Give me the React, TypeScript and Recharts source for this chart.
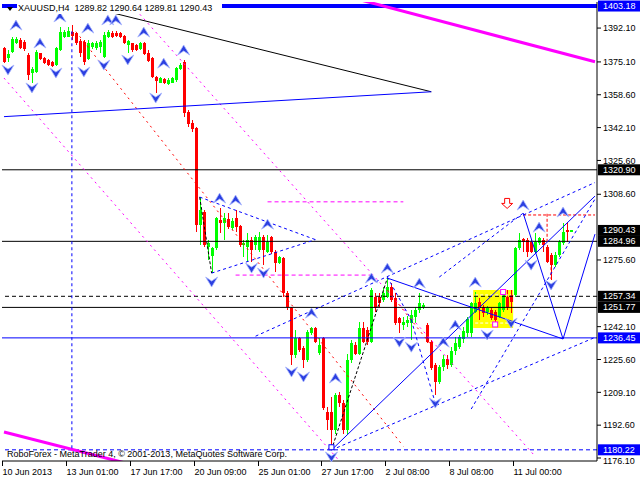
import React from 'react';
import {
  ComposedChart,
  Bar,
  XAxis,
  YAxis,
  ReferenceLine,
  ReferenceDot,
  ReferenceArea
} from 'recharts';

const FONT = '"Liberation Sans", Arial, sans-serif';

// ---- data ----
const timeLabels = [
  '10 Jun 2013', '13 Jun 01:00', '17 Jun 17:00', '20 Jun 09:00', '25 Jun 01:00',
  '27 Jun 17:00', '2 Jul 08:00', '8 Jul 08:00', '11 Jul 00:00'
];
const timeTickBars = [0, 16, 32, 48, 64, 80, 96, 112, 128];
// 1259.10 and 1292.10 sit under the price tags, so they are left out
const priceTicks = [
  1176.1, 1192.6, 1209.1, 1225.6, 1242.1, 1275.6, 1308.6,
  1325.6, 1342.1, 1358.6, 1375.1, 1392.1
];
const totalSlots = 149; // 143 bars + chart shift on the right

const opens = [
  1381.9, 1377.0, 1380.2, 1384.8, 1386.1, 1385.3, 1378.6, 1369.4, 1370.2, 1379.4,
  1377.2, 1376.0, 1375.2, 1373.5, 1381.1, 1387.4, 1387.8, 1390.3, 1389.4, 1385.8,
  1385.3, 1376.4, 1382.4, 1381.9, 1382.7, 1377.7, 1387.4, 1389.8, 1389.8, 1389.4,
  1388.1, 1383.6, 1384.4, 1383.6, 1381.4, 1384.4, 1379.7, 1376.9, 1367.3, 1364.7,
  1366.5, 1364.0, 1364.7, 1366.0, 1371.4, 1375.2, 1350.1, 1344.6, 1341.7, 1293.1,
  1299.8, 1282.2, 1277.5, 1281.4, 1295.6, 1294.0, 1296.1, 1291.9, 1296.5, 1292.6,
  1283.1, 1282.2, 1285.6, 1283.1, 1280.6, 1286.9, 1279.7, 1286.9, 1279.7, 1274.2,
  1276.4, 1258.8, 1251.5, 1227.8, 1236.2, 1231.2, 1225.3, 1238.7, 1241.2, 1229.0,
  1236.2, 1199.3, 1199.3, 1190.1, 1207.7, 1203.5, 1190.1, 1225.3, 1232.8, 1228.6,
  1241.2, 1240.4, 1234.5, 1257.1, 1257.1, 1255.5, 1257.1, 1262.2, 1256.3, 1246.2,
  1242.9, 1243.7, 1243.7, 1247.1, 1250.4, 1252.1, 1242.9, 1234.5, 1222.8, 1214.4,
  1222.0, 1226.0, 1223.0, 1230.0, 1232.0, 1236.0, 1239.0, 1238.7, 1249.6, 1254.6,
  1252.1, 1249.6, 1250.4, 1249.6, 1247.1, 1250.4, 1257.1, 1258.0, 1258.0, 1281.4,
  1285.9, 1285.6, 1284.8, 1279.7, 1283.9, 1285.6, 1282.3, 1278.1, 1273.0, 1278.1,
  1283.9, 1290.6, 1289.82
];
const highs = [
  1382.7, 1381.0, 1387.4, 1387.5, 1386.9, 1386.0, 1379.4, 1372.7, 1381.1, 1379.7,
  1377.8, 1376.5, 1375.8, 1382.7, 1392.8, 1391.1, 1392.8, 1393.6, 1390.3, 1386.4,
  1386.1, 1386.1, 1385.3, 1385.5, 1386.1, 1390.3, 1391.1, 1390.8, 1390.5, 1390.3,
  1388.6, 1386.1, 1384.8, 1384.2, 1385.0, 1385.3, 1381.1, 1377.4, 1368.0, 1367.7,
  1367.0, 1366.8, 1367.7, 1372.7, 1374.4, 1376.0, 1350.9, 1345.9, 1342.3, 1307.3,
  1300.6, 1285.6, 1282.2, 1297.3, 1301.5, 1299.0, 1299.0, 1296.5, 1300.6, 1293.1,
  1285.6, 1288.9, 1287.2, 1288.1, 1289.8, 1288.1, 1288.1, 1287.6, 1280.6, 1277.5,
  1277.2, 1260.0, 1252.1, 1240.4, 1237.0, 1232.3, 1240.4, 1242.0, 1242.0, 1236.2,
  1237.0, 1201.9, 1206.9, 1208.6, 1209.4, 1205.2, 1228.6, 1235.4, 1234.5, 1244.5,
  1244.5, 1242.0, 1261.3, 1258.8, 1258.8, 1262.2, 1266.3, 1263.8, 1258.8, 1247.0,
  1247.0, 1247.5, 1250.4, 1252.1, 1258.8, 1254.0, 1243.7, 1235.4, 1223.6, 1222.8,
  1228.0, 1228.0, 1232.0, 1237.0, 1238.0, 1242.0, 1247.0, 1254.6, 1259.6, 1256.3,
  1253.0, 1252.5, 1251.3, 1250.4, 1254.6, 1259.6, 1260.5, 1260.5, 1282.3, 1289.0,
  1286.4, 1286.4, 1285.6, 1289.0, 1287.2, 1286.4, 1283.1, 1278.9, 1279.7, 1285.6,
  1294.0, 1294.5, 1290.64
];
const lows = [
  1374.4, 1375.0, 1379.4, 1384.0, 1381.4, 1380.5, 1366.0, 1364.7, 1369.7, 1376.0,
  1374.0, 1372.8, 1372.3, 1373.0, 1380.7, 1386.9, 1387.4, 1386.1, 1383.6, 1377.7,
  1373.5, 1376.0, 1381.4, 1381.0, 1379.4, 1376.9, 1386.9, 1386.9, 1387.5, 1386.9,
  1384.1, 1379.4, 1380.2, 1380.5, 1381.0, 1378.6, 1375.2, 1366.8, 1359.3, 1364.3,
  1363.8, 1363.5, 1364.3, 1365.2, 1371.0, 1347.6, 1342.6, 1340.0, 1289.6, 1283.1,
  1282.2, 1275.5, 1268.8, 1280.6, 1288.9, 1285.6, 1291.4, 1290.6, 1289.8, 1282.2,
  1277.2, 1274.7, 1274.7, 1280.6, 1279.7, 1273.0, 1278.9, 1278.4, 1269.7, 1273.5,
  1257.1, 1250.4, 1222.8, 1226.1, 1229.5, 1221.1, 1224.5, 1237.9, 1233.7, 1227.8,
  1200.2, 1190.1, 1180.2, 1188.4, 1201.9, 1188.4, 1188.4, 1223.6, 1227.8, 1227.8,
  1233.7, 1233.0, 1233.7, 1249.6, 1252.0, 1254.6, 1256.3, 1254.6, 1242.9, 1238.7,
  1240.4, 1242.0, 1235.4, 1243.7, 1248.8, 1251.0, 1233.7, 1220.3, 1207.7, 1213.5,
  1220.0, 1221.0, 1222.0, 1228.0, 1231.0, 1234.0, 1237.0, 1237.0, 1248.8, 1245.4,
  1247.0, 1248.0, 1245.4, 1242.0, 1246.2, 1249.6, 1250.4, 1248.8, 1257.1, 1280.6,
  1279.7, 1277.2, 1278.9, 1278.9, 1283.1, 1279.7, 1273.9, 1265.5, 1272.2, 1277.2,
  1283.1, 1284.5, 1289.81
];
const closes = [
  1375.2, 1379.0, 1386.4, 1386.4, 1381.9, 1381.4, 1368.5, 1371.4, 1380.2, 1376.4,
  1374.7, 1373.5, 1373.0, 1381.9, 1390.3, 1390.3, 1390.6, 1388.1, 1384.8, 1379.4,
  1375.2, 1384.8, 1384.8, 1384.8, 1385.3, 1388.6, 1390.3, 1387.8, 1388.1, 1387.4,
  1384.4, 1385.8, 1381.1, 1381.1, 1384.4, 1379.1, 1375.7, 1367.3, 1365.7, 1366.8,
  1364.3, 1366.0, 1366.8, 1371.9, 1373.5, 1349.2, 1343.9, 1341.4, 1293.1, 1300.6,
  1283.1, 1283.9, 1281.4, 1296.5, 1294.0, 1296.5, 1292.3, 1295.3, 1292.3, 1283.1,
  1283.9, 1285.6, 1280.6, 1286.9, 1286.9, 1280.6, 1284.7, 1279.7, 1274.2, 1276.9,
  1258.8, 1252.1, 1227.8, 1236.2, 1230.3, 1225.3, 1239.6, 1241.2, 1234.5, 1232.8,
  1201.0, 1195.2, 1190.1, 1207.7, 1203.5, 1190.1, 1225.3, 1233.7, 1228.6, 1241.2,
  1234.5, 1234.5, 1260.5, 1251.3, 1253.8, 1258.8, 1262.2, 1255.5, 1243.7, 1243.7,
  1244.6, 1245.4, 1247.9, 1250.4, 1253.8, 1253.0, 1234.5, 1221.1, 1214.4, 1221.9,
  1226.0, 1223.0, 1230.0, 1234.0, 1237.0, 1240.0, 1246.0, 1253.8, 1253.8, 1251.3,
  1248.8, 1251.3, 1246.2, 1245.4, 1253.8, 1258.0, 1252.1, 1254.6, 1281.4, 1285.6,
  1284.8, 1279.7, 1279.7, 1284.8, 1286.4, 1283.1, 1274.7, 1273.0, 1278.1, 1284.8,
  1289.8, 1289.8, 1290.43
];

// horizontal levels with their price tags
const levels = [1403.18, 1320.9, 1284.96, 1257.34, 1251.77, 1236.45, 1180.22];
const bidPrice = 1290.43;

// trend lines as [bar1, price1, bar2, price2]
const blackSolidSegs = [[17, 1404.8, 107, 1360.1]];
const blueSolidSegs = [
  [0, 1347.6, 107, 1360.1],
  [82, 1180.1, 148, 1307.7],
  [96, 1266.5, 140, 1235.9],
  [130, 1299.2, 140, 1235.9],
  [140, 1235.9, 148, 1288.6]
];
const blueDashedSegs = [
  [17, 1390.5, 17, 1180.22],
  [49, 1307.2, 78, 1285.8],
  [52, 1269.0, 78, 1285.8],
  [63, 1237.3, 148, 1314.5],
  [82, 1180.1, 148, 1236.7],
  [96, 1267.0, 102, 1245.4],
  [102, 1245.4, 108, 1203.7],
  [117, 1200.7, 148, 1306.2],
  [109, 1267.0, 130, 1299.1]
];
const blackDashedSegs = [
  [49, 1307.2, 52, 1269.0],
  [82, 1180.1, 96, 1266.5]
];
const magentaDottedSegs = [
  [0, 1367.0, 84, 1174.6],
  [31, 1405.8, 133, 1177.0]
];
const magentaDashedSegs = [
  [66, 1304.8, 100, 1304.8],
  [58, 1268.0, 92, 1268.0]
];
const redDottedSegs = [
  [18, 1390.3, 100, 1182.0],
  [96, 1260.5, 107, 1232.8]
];
const redDashedSegs = [
  [130, 1298.2, 148, 1298.2],
  [136, 1298.8, 136, 1284.8],
  [137, 1277.0, 137, 1266.0]
];
const magentaThickSegs = [
  [88, 1406.9, 148, 1375.15],
  [0, 1189.2, 30, 1173.8]
];
const boxInnerSegs = [
  [118, 1258.0, 127, 1258.0],
  [118, 1243.9, 127, 1243.9]
];

// fractal arrows
const upFractalBars = [3, 9, 14, 21, 26, 28, 35, 40, 45, 54, 58, 66, 77, 83, 92, 96, 104, 110, 113, 118, 130, 134, 140];
const upFractalPrices = [
  1393.6, 1384.6, 1397.7, 1392.1, 1396.2, 1396.2, 1390.1, 1374.5, 1381.1, 1306.7, 1305.7, 1293.6,
  1248.9, 1216.3, 1266.5, 1271.5, 1264.0, 1234.3, 1242.9, 1264.5, 1303.2, 1292.1, 1299.7
];
const downFractalBars = [1, 7, 13, 20, 25, 31, 38, 52, 62, 65, 72, 75, 82, 99, 102, 108, 121, 127, 132, 137];
const downFractalPrices = [
  1371.0, 1362.0, 1369.5, 1370.0, 1373.5, 1376.05, 1356.95, 1264.5, 1271.5, 1269.0, 1219.3,
  1216.8, 1176.6, 1234.3, 1231.8, 1203.7, 1237.9, 1243.9, 1273.0, 1263.0
];
const squareMarks = [[82, 1181.5], [123, 1243.2], [125, 1259.5]];

const chartData = Array.from({ length: totalSlots }, (_, i) =>
  i < opens.length
    ? { i, o: opens[i], h: highs[i], l: lows[i], c: closes[i], range: [lows[i], highs[i]] }
    : { i, range: null }
);

const Candle = (props: any) => {
  const { x, width, y, height, payload } = props;
  if (!payload || payload.o == null || !isFinite(height)) return null;
  const { o, h, l, c } = payload;
  const yTop = height < 0 ? y + height : y;
  const hh = Math.abs(height);
  const cx = Math.round(x + width / 2) - 0.5;
  const ppu = hh / (h - l);
  const top = yTop + (h - Math.max(o, c)) * ppu;
  const bot = yTop + (h - Math.min(o, c)) * ppu;
  const col = c >= o ? '#00ff00' : '#ff0000';
  return (
    <g shapeRendering="crispEdges">
      <rect x={cx} y={yTop} width={1} height={Math.max(1, hh)} fill={col} />
      <rect x={cx - 1} y={top} width={3} height={Math.max(1, bot - top)} fill={col} />
    </g>
  );
};

const PriceTag = (props: any) => {
  const { viewBox, text, bg } = props;
  if (!viewBox) return null;
  const x = viewBox.x + viewBox.width + 1;
  const y = viewBox.y;
  return (
    <g>
      <rect x={x} y={y - 5.5} width={42} height={11} fill={bg} />
      <text x={x + 5} y={y + 3} fill="#fff" fontSize={9} fontFamily={FONT}>
        {text}
      </text>
    </g>
  );
};

const PriceTick = (props: any) => {
  const { x, y, payload } = props;
  // the lowest label sits just under the 1180.22 tag, as in MetaTrader
  const shift = payload.value < 1180 ? 2.5 : 0;
  return (
    <text x={x} y={y + 3.2 + shift} fontSize={9} fontFamily={FONT} fill="#000">
      {payload.value.toFixed(2)}
    </text>
  );
};

const FractalUp = ({ cx, cy }: any) => (
  <path
    d={`M${cx - 6},${cy + 5} L${cx},${cy - 5} L${cx + 6},${cy + 5} L${cx},${cy + 1} Z`}
    fill="#2b3fe0"
    stroke="#aab8ff"
    strokeWidth={0.8}
  />
);

const FractalDown = ({ cx, cy }: any) => (
  <path
    d={`M${cx - 6},${cy - 5} L${cx},${cy + 5} L${cx + 6},${cy - 5} L${cx},${cy - 1} Z`}
    fill="#2b3fe0"
    stroke="#aab8ff"
    strokeWidth={0.8}
  />
);

const TimeTick = (props: any) => {
  const { x, payload } = props;
  const k = timeTickBars.indexOf(payload.value);
  const tx = Math.round(x) - 1.5;
  return (
    <g>
      <line x1={tx} y1={461} x2={tx} y2={466} stroke="#000" />
      <text x={tx} y={475} fontSize={9} fontFamily={FONT} fill="#000">
        {timeLabels[k]}
      </text>
    </g>
  );
};

const seg = (s: number[]) => [
  { x: s[0], y: s[1] },
  { x: s[2], y: s[3] }
];

export default function App() {
  return (
    <div style={{ position: 'absolute', left: 0, top: 0, width: 640, height: 480, background: '#fff' }}>
      <ComposedChart
        width={640}
        height={480}
        data={chartData}
        margin={{ top: 2, right: 0, left: 2, bottom: 0 }}
      >
        <XAxis
          dataKey="i"
          type="category"
          ticks={timeTickBars}
          interval={0}
          tick={<TimeTick />}
          tickLine={false}
          axisLine={{ stroke: '#000' }}
          height={19}
        />
        <YAxis
          orientation="right"
          width={43}
          domain={[1174.6, 1405.2]}
          allowDataOverflow
          ticks={priceTicks}
          interval={0}
          tickSize={4}
          tickMargin={2}
          tickLine={{ stroke: '#000' }}
          axisLine={{ stroke: '#000' }}
          tick={<PriceTick />}
        />
        <ReferenceArea x1={118} x2={127} y1={1241.4} y2={1260.5} fill="#ffff00" fillOpacity={1} />
        {boxInnerSegs.map((s, k) => (
          <ReferenceLine key={'wi' + k} segment={seg(s)} stroke="#fff" strokeDasharray="3 2" ifOverflow="hidden" />
        ))}

        <ReferenceLine y={levels[0]} stroke="#0000ff" strokeWidth={4} label={<PriceTag text="1403.18" bg="#0000ff" />} />
        <ReferenceLine y={levels[1]} stroke="#000" label={<PriceTag text="1320.90" bg="#000" />} />
        <ReferenceLine y={levels[2]} stroke="#000" label={<PriceTag text="1284.96" bg="#000" />} />
        <ReferenceLine y={levels[3]} stroke="#000" strokeDasharray="4 3" label={<PriceTag text="1257.34" bg="#000" />} />
        <ReferenceLine y={levels[4]} stroke="#000" label={<PriceTag text="1251.77" bg="#000" />} />
        <ReferenceLine y={levels[5]} stroke="#0000ff" label={<PriceTag text="1236.45" bg="#0000ff" />} />
        <ReferenceLine y={levels[6]} stroke="#0000ff" strokeDasharray="4 3" label={<PriceTag text="1180.22" bg="#0000ff" />} />

        {magentaThickSegs.map((s, k) => (
          <ReferenceLine key={'mt' + k} segment={seg(s)} stroke="#ff00ff" strokeWidth={3} ifOverflow="hidden" />
        ))}
        {magentaDottedSegs.map((s, k) => (
          <ReferenceLine key={'md' + k} segment={seg(s)} stroke="#ff00ff" strokeDasharray="2 4" ifOverflow="hidden" />
        ))}
        {magentaDashedSegs.map((s, k) => (
          <ReferenceLine key={'mh' + k} segment={seg(s)} stroke="#ff00ff" strokeDasharray="4 3" ifOverflow="hidden" />
        ))}
        {redDottedSegs.map((s, k) => (
          <ReferenceLine key={'rd' + k} segment={seg(s)} stroke="#ff0000" strokeDasharray="2 4" ifOverflow="hidden" />
        ))}
        {redDashedSegs.map((s, k) => (
          <ReferenceLine key={'rh' + k} segment={seg(s)} stroke="#ff0000" strokeDasharray="3 2" ifOverflow="hidden" />
        ))}
        {blackSolidSegs.map((s, k) => (
          <ReferenceLine key={'ks' + k} segment={seg(s)} stroke="#000" ifOverflow="hidden" />
        ))}
        {blackDashedSegs.map((s, k) => (
          <ReferenceLine key={'kd' + k} segment={seg(s)} stroke="#000" strokeDasharray="3 2" ifOverflow="hidden" />
        ))}
        {blueSolidSegs.map((s, k) => (
          <ReferenceLine key={'bs' + k} segment={seg(s)} stroke="#0000ff" ifOverflow="hidden" />
        ))}
        {blueDashedSegs.map((s, k) => (
          <ReferenceLine key={'bd' + k} segment={seg(s)} stroke="#0000ff" strokeDasharray="3 3" ifOverflow="hidden" />
        ))}

        <Bar dataKey="range" shape={<Candle />} isAnimationActive={false} />

        {upFractalBars.map((b, k) => (
          <ReferenceDot key={'fu' + k} x={b} y={upFractalPrices[k]} shape={(p: any) => <FractalUp {...p} />} />
        ))}
        {downFractalBars.map((b, k) => (
          <ReferenceDot key={'fd' + k} x={b} y={downFractalPrices[k]} shape={(p: any) => <FractalDown {...p} />} />
        ))}
        {squareMarks.map((m, k) => (
          <ReferenceDot
            key={'sq' + k}
            x={m[0]}
            y={m[1]}
            shape={(p: any) => (
              <rect x={p.cx - 2.5} y={p.cy - 2.5} width={5} height={5} fill="#fff" stroke={k === 0 ? '#0000ff' : '#ff00ff'} />
            )}
          />
        ))}
        <ReferenceDot
          x={126}
          y={1304}
          shape={(p: any) => (
            <path
              d={`M${p.cx - 2.5},${p.cy - 5} h5 v5 h3 l-5.5,5 l-5.5,-5 h3 Z`}
              fill="#fff"
              stroke="#ff0000"
            />
          )}
        />
        <ReferenceLine y={bidPrice} stroke="none" label={<PriceTag text="1290.43" bg="#000" />} />
        <ReferenceArea fill="none" stroke="#000" shapeRendering="crispEdges" />
      </ComposedChart>

      <div
        style={{
          position: 'absolute',
          left: 17,
          top: 2,
          height: 12,
          width: 204,
          background: '#fff',
          fontFamily: FONT,
          fontSize: 9,
          lineHeight: '12px',
          color: '#000',
          whiteSpace: 'pre',
          paddingLeft: 1
        }}
      >
        XAUUSD,H4  1289.82 1290.64 1289.81 1290.43
      </div>
      <div
        style={{
          position: 'absolute',
          left: 7,
          top: 7,
          width: 0,
          height: 0,
          borderLeft: '3px solid transparent',
          borderRight: '3px solid transparent',
          borderTop: '4px solid #000'
        }}
      />
      <div
        style={{
          position: 'absolute',
          left: 7,
          top: 449,
          fontFamily: FONT,
          fontSize: 9,
          lineHeight: '11px',
          color: '#000',
          whiteSpace: 'pre'
        }}
      >
        RoboForex - MetaTrader 4, © 2001-2013, MetaQuotes Software Corp.
      </div>
    </div>
  );
}
